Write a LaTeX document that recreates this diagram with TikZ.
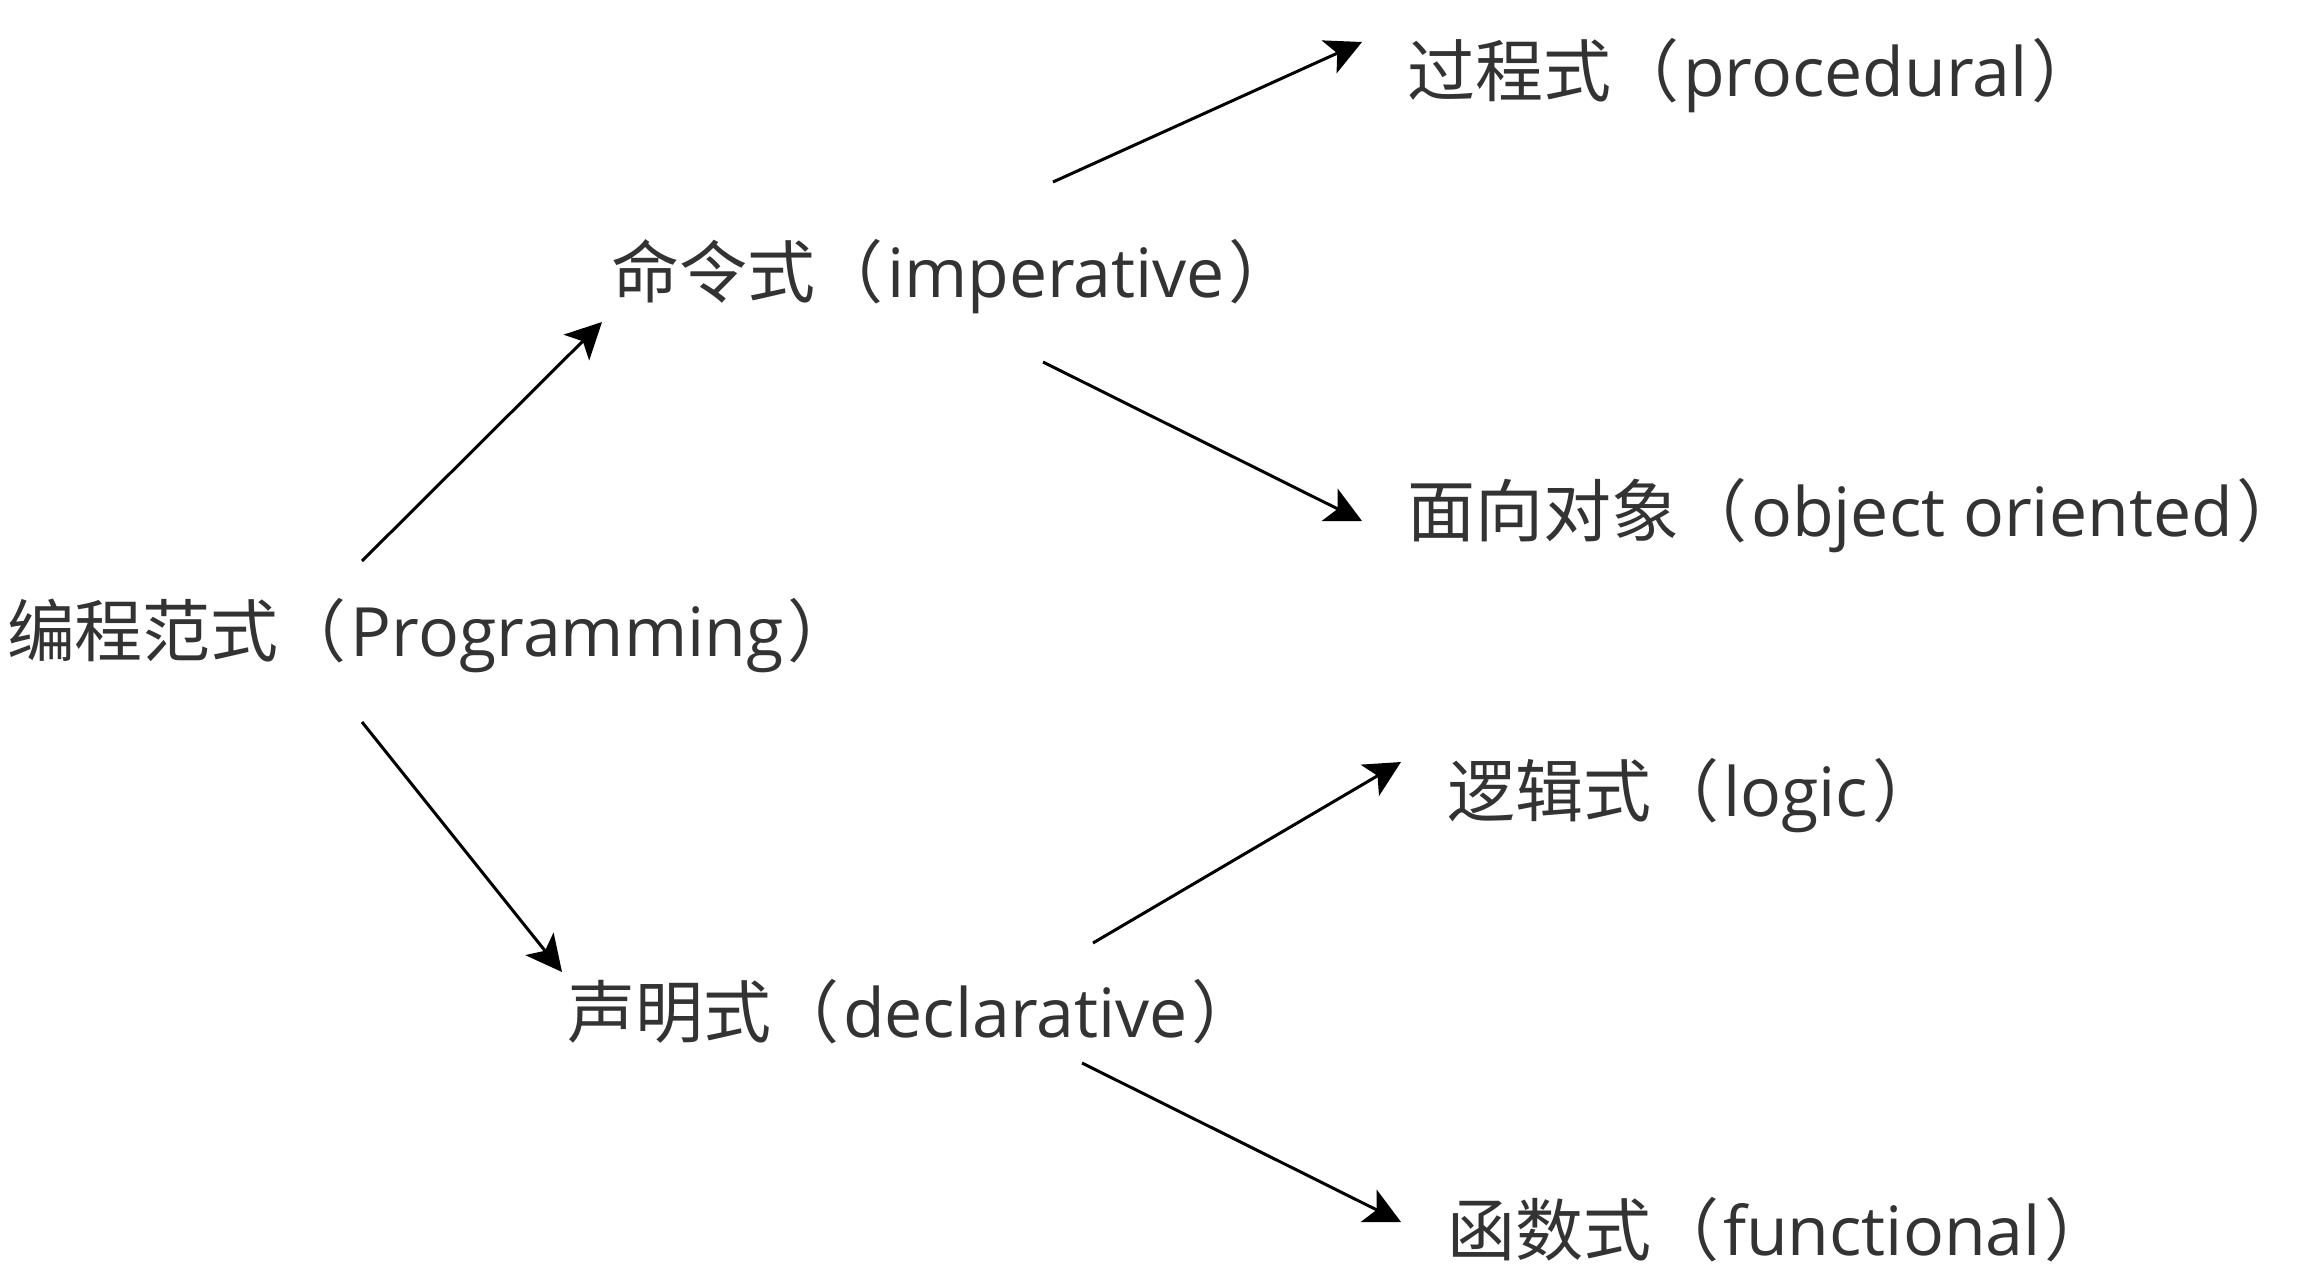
\documentclass[tikz,border=0pt]{standalone}
\usepackage{fontspec}
\setmainfont{Open Sans}
\newfontfamily\cjk{Noto Sans CJK SC}
\usetikzlibrary{arrows.meta}
\definecolor{txt}{HTML}{333333}
\newcommand\myLP{{\cjk （}\kern2pt}
\newcommand\myRP{\kern2pt{\cjk ）}}
\tikzset{
  lbl/.style={anchor=base west, inner sep=0pt, outer sep=0pt, text=txt,
    font=\fontsize{34pt}{40pt}\selectfont},
  arr/.style={draw=black, line width=1.5pt,
    -{Stealth[length=18pt, width=18pt, inset=4.4pt]}}
}
\begin{document}
\begin{tikzpicture}[x=0.5pt, y=-0.5pt]
\useasboundingbox (0,0) rectangle (2320,1284);
% nodes
\node[lbl] (prog) at (7,656) {{\cjk 编程范式}\myLP Programming\myRP};
\node[lbl] (imp)  at (611,297) {{\cjk 命令式}\myLP imperative\myRP};
\node[lbl] (proc) at (1407,97) {{\cjk 过程式}\myLP procedural\myRP};
\node[lbl] (oo)   at (1407,536) {{\cjk 面向对象}\myLP object oriented\myRP};
\node[lbl] (decl) at (567,1037) {{\cjk 声明式}\myLP declarative\myRP};
\node[lbl] (logic) at (1447,816) {{\cjk 逻辑式}\myLP logic\myRP};
\node[lbl] (func) at (1447,1255) {{\cjk 函数式}\myLP functional\myRP};
% connector end points
\coordinate (a1s) at (362,561);  \coordinate (a1e) at (602,322);
\coordinate (a2s) at (362,722);  \coordinate (a2e) at (562,972);
\coordinate (a3s) at (1053,182); \coordinate (a3e) at (1362,42);
\coordinate (a4s) at (1043,362); \coordinate (a4e) at (1362,521);
\coordinate (a5s) at (1093,943); \coordinate (a5e) at (1401,762);
\coordinate (a6s) at (1082,1063);\coordinate (a6e) at (1401,1222);
% connectors
\draw[arr] (a1s) -- (a1e);
\draw[arr] (a2s) -- (a2e);
\draw[arr] (a3s) -- (a3e);
\draw[arr] (a4s) -- (a4e);
\draw[arr] (a5s) -- (a5e);
\draw[arr] (a6s) -- (a6e);
\end{tikzpicture}
\end{document}
